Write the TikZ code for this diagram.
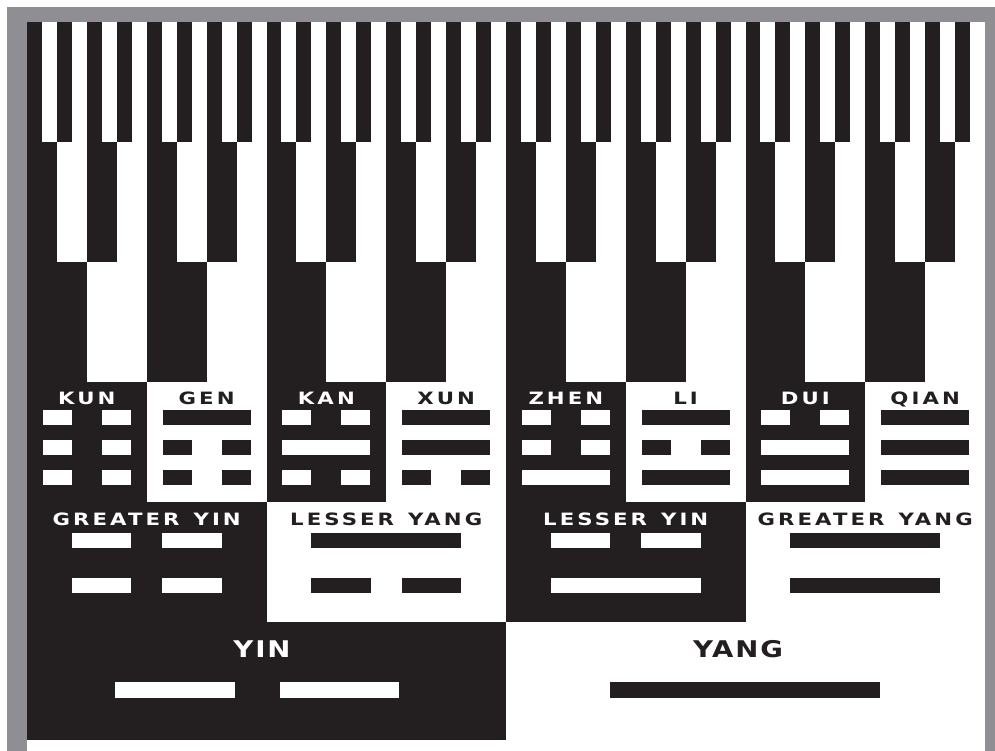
\documentclass[tikz,border=0pt]{standalone}
\usepackage{fontspec}
\newfontfamily\lblfont[LetterSpace=18,FakeStretch=1.25]{DejaVu Sans}
\newfontfamily\bigfont[LetterSpace=8,FakeStretch=1.2]{DejaVu Sans}
\definecolor{ink}{RGB}{35,31,32}
\definecolor{framegray}{RGB}{142,142,147}
\newcommand\wsp{\hspace*{14pt}}
\newcommand\yyline[7]{%
  \ifnum#5=1
    \fill[#6] ({#1-#3},#2) rectangle ({#1+#3},{#2+#7});
  \else
    \fill[#6] ({#1-#3},#2) rectangle ({#1-#4},{#2+#7});
    \fill[#6] ({#1+#4},#2) rectangle ({#1+#3},{#2+#7});
  \fi}
\tikzset{
  smalllbl/.style={font=\lblfont\bfseries\fontsize{17}{17}\selectfont, inner sep=0pt, anchor=base},
  biglbl/.style={font=\bigfont\bfseries\fontsize{23}{23}\selectfont, inner sep=0pt, anchor=base}
}
\begin{document}
\begin{tikzpicture}[x=1pt,y=-1pt]
\useasboundingbox (0,0) rectangle (995,751);
\fill[white] (0,0) rectangle (995,751);
\fill[framegray] (7,7) rectangle (995,751);
\fill[white] (27,22) rectangle (985,751);
% binary layers, top to bottom
\foreach \n/\top in {64/22,32/142,16/262,8/382,4/502,2/622}{
  \pgfmathsetmacro{\w}{958/\n}
  \pgfmathtruncatemacro{\m}{\n-1}
  \foreach \i in {0,...,\m}{
    \pgfmathtruncatemacro{\odd}{mod(\i,2)}
    \ifnum\odd=0 \def\col{ink}\else\def\col{white}\fi
    \fill[\col] ({27+\i*\w},\top) rectangle ({27+(\i+1)*\w},740);
  }
}
% trigrams
\foreach \i/\name in {0/KUN,1/GEN,2/KAN,3/XUN,4/ZHEN,5/LI,6/DUI,7/QIAN}{
  \pgfmathsetmacro{\cx}{27+119.75*(\i+0.5)}
  \pgfmathtruncatemacro{\ta}{mod(\i,2)}
  \pgfmathtruncatemacro{\tb}{mod(floor(\i/2),2)}
  \pgfmathtruncatemacro{\tc}{floor(\i/4)}
  \ifnum\ta=0 \def\col{white}\else\def\col{ink}\fi
  \node[smalllbl, text=\col] (tri\i) at (\cx,404) {\name};
  \yyline{\cx}{410}{44}{15}{\ta}{\col}{15}
  \yyline{\cx}{440}{44}{15}{\tb}{\col}{15}
  \yyline{\cx}{470}{44}{15}{\tc}{\col}{15}
}
% digrams
\foreach \j/\wa/\wb in {0/GREATER/YIN,1/LESSER/YANG,2/LESSER/YIN,3/GREATER/YANG}{
  \pgfmathsetmacro{\cx}{27+239.5*(\j+0.5)}
  \pgfmathtruncatemacro{\da}{mod(\j,2)}
  \pgfmathtruncatemacro{\db}{floor(\j/2)}
  \ifnum\da=0 \def\col{white}\else\def\col{ink}\fi
  \node[smalllbl, text=\col] (di\j) at (\cx,525) {\wa\wsp\wb};
  \yyline{\cx}{533}{75}{15.5}{\da}{\col}{14.5}
  \yyline{\cx}{578}{75}{15.5}{\db}{\col}{14.5}
}
% monograms
\node[biglbl, text=white] (yin) at (262,657) {YIN};
\node[biglbl, text=ink] (yang) at (738,657) {YANG};
\fill[white] (115,682) rectangle (235,698);
\fill[white] (280,682) rectangle (399,698);
\fill[ink] (610,682) rectangle (880,698);
\end{tikzpicture}
\end{document}
